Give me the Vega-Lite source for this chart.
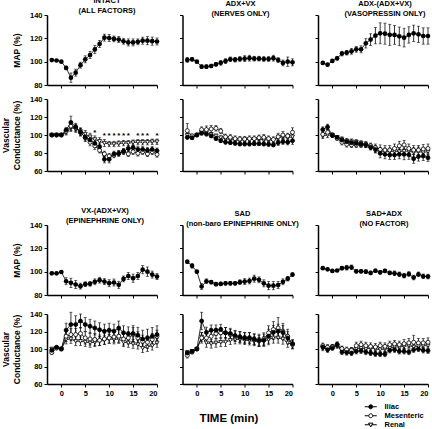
{
"$schema":"https://vega.github.io/schema/vega-lite/v6.json",
"padding":{"left":1,"top":-4,"right":2,"bottom":2},
"background":"white",
"datasets":{
"map":[
{"panel":"A","time":-2,"mean":101.4,"sem":1},{"panel":"A","time":-1,"mean":101,"sem":0.8},{"panel":"A","time":0,"mean":100,"sem":0.5},{"panel":"A","time":1,"mean":94.6,"sem":1.5},{"panel":"A","time":2,"mean":86.3,"sem":4},{"panel":"A","time":3,"mean":90.6,"sem":3},{"panel":"A","time":4,"mean":97,"sem":2.5},{"panel":"A","time":5,"mean":102,"sem":3},{"panel":"A","time":6,"mean":105.7,"sem":3},{"panel":"A","time":7,"mean":110.5,"sem":3.5},{"panel":"A","time":8,"mean":115.2,"sem":3},{"panel":"A","time":9,"mean":120.6,"sem":3},{"panel":"A","time":10,"mean":120.3,"sem":3},{"panel":"A","time":11,"mean":119.5,"sem":2.5},{"panel":"A","time":12,"mean":119,"sem":2.5},{"panel":"A","time":13,"mean":117.5,"sem":2.5},{"panel":"A","time":14,"mean":116.5,"sem":3},{"panel":"A","time":15,"mean":116.5,"sem":3},{"panel":"A","time":16,"mean":117,"sem":2.5},{"panel":"A","time":17,"mean":118,"sem":3},{"panel":"A","time":18,"mean":118,"sem":3.5},{"panel":"A","time":19,"mean":117.6,"sem":3.5},{"panel":"A","time":20,"mean":117.3,"sem":3},
{"panel":"B","time":-2,"mean":101.5,"sem":2},{"panel":"B","time":-1,"mean":102,"sem":1.5},{"panel":"B","time":0,"mean":100,"sem":1},{"panel":"B","time":1,"mean":95.7,"sem":1.5},{"panel":"B","time":2,"mean":95.7,"sem":1.5},{"panel":"B","time":3,"mean":96.3,"sem":1.5},{"panel":"B","time":4,"mean":97.7,"sem":1.5},{"panel":"B","time":5,"mean":99,"sem":2},{"panel":"B","time":6,"mean":100.5,"sem":2},{"panel":"B","time":7,"mean":102,"sem":2},{"panel":"B","time":8,"mean":101.7,"sem":2},{"panel":"B","time":9,"mean":102.3,"sem":2},{"panel":"B","time":10,"mean":102.6,"sem":2.5},{"panel":"B","time":11,"mean":103,"sem":2.5},{"panel":"B","time":12,"mean":102.6,"sem":2},{"panel":"B","time":13,"mean":102.6,"sem":2},{"panel":"B","time":14,"mean":102.3,"sem":2},{"panel":"B","time":15,"mean":102.3,"sem":2},{"panel":"B","time":16,"mean":103,"sem":2.5},{"panel":"B","time":17,"mean":101.4,"sem":2},{"panel":"B","time":18,"mean":98.9,"sem":2.5},{"panel":"B","time":19,"mean":100,"sem":4},{"panel":"B","time":20,"mean":99.4,"sem":3},
{"panel":"C","time":-2,"mean":98.9,"sem":1},{"panel":"C","time":-1,"mean":97.4,"sem":1},{"panel":"C","time":0,"mean":100.6,"sem":1},{"panel":"C","time":1,"mean":102.9,"sem":1.5},{"panel":"C","time":2,"mean":106.9,"sem":2},{"panel":"C","time":3,"mean":107.7,"sem":2},{"panel":"C","time":4,"mean":108.9,"sem":2.5},{"panel":"C","time":5,"mean":110.6,"sem":2.5},{"panel":"C","time":6,"mean":110.6,"sem":3},{"panel":"C","time":7,"mean":115.7,"sem":4},{"panel":"C","time":8,"mean":118.9,"sem":5},{"panel":"C","time":9,"mean":122.3,"sem":7},{"panel":"C","time":10,"mean":124.3,"sem":9},{"panel":"C","time":11,"mean":124,"sem":9},{"panel":"C","time":12,"mean":123,"sem":9},{"panel":"C","time":13,"mean":122.9,"sem":8},{"panel":"C","time":14,"mean":121.7,"sem":8},{"panel":"C","time":15,"mean":120.6,"sem":8},{"panel":"C","time":16,"mean":122.9,"sem":7},{"panel":"C","time":17,"mean":124.3,"sem":7},{"panel":"C","time":18,"mean":123.4,"sem":7},{"panel":"C","time":19,"mean":122,"sem":7},{"panel":"C","time":20,"mean":122,"sem":7},
{"panel":"D","time":-2,"mean":98.6,"sem":1},{"panel":"D","time":-1,"mean":98.6,"sem":1},{"panel":"D","time":0,"mean":99.7,"sem":1},{"panel":"D","time":1,"mean":91.8,"sem":3},{"panel":"D","time":2,"mean":90.4,"sem":4},{"panel":"D","time":3,"mean":89,"sem":3.5},{"panel":"D","time":4,"mean":87.6,"sem":2.5},{"panel":"D","time":5,"mean":89.3,"sem":2},{"panel":"D","time":6,"mean":89.6,"sem":2},{"panel":"D","time":7,"mean":91.3,"sem":2.5},{"panel":"D","time":8,"mean":92.7,"sem":2.5},{"panel":"D","time":9,"mean":91.5,"sem":2.5},{"panel":"D","time":10,"mean":90.1,"sem":3},{"panel":"D","time":11,"mean":90.7,"sem":3},{"panel":"D","time":12,"mean":88.7,"sem":3},{"panel":"D","time":13,"mean":93.8,"sem":2.5},{"panel":"D","time":14,"mean":96.3,"sem":3},{"panel":"D","time":15,"mean":94.4,"sem":3.5},{"panel":"D","time":16,"mean":96.3,"sem":3},{"panel":"D","time":17,"mean":101.7,"sem":3.5},{"panel":"D","time":18,"mean":100,"sem":4},{"panel":"D","time":19,"mean":97.5,"sem":3},{"panel":"D","time":20,"mean":95.8,"sem":2.5},
{"panel":"E","time":-2,"mean":108.5,"sem":1.5},{"panel":"E","time":-1,"mean":105,"sem":2},{"panel":"E","time":0,"mean":100,"sem":1},{"panel":"E","time":1,"mean":87.3,"sem":2.5},{"panel":"E","time":2,"mean":91.8,"sem":2},{"panel":"E","time":3,"mean":91,"sem":1.5},{"panel":"E","time":4,"mean":89.3,"sem":1.5},{"panel":"E","time":5,"mean":89.5,"sem":1.5},{"panel":"E","time":6,"mean":90,"sem":1.5},{"panel":"E","time":7,"mean":90,"sem":1.5},{"panel":"E","time":8,"mean":90,"sem":1.5},{"panel":"E","time":9,"mean":91,"sem":2},{"panel":"E","time":10,"mean":91.5,"sem":2.5},{"panel":"E","time":11,"mean":92,"sem":2.5},{"panel":"E","time":12,"mean":94,"sem":3},{"panel":"E","time":13,"mean":93,"sem":2.5},{"panel":"E","time":14,"mean":90,"sem":3},{"panel":"E","time":15,"mean":88,"sem":3.5},{"panel":"E","time":16,"mean":88,"sem":3.5},{"panel":"E","time":17,"mean":88.5,"sem":3},{"panel":"E","time":18,"mean":91.3,"sem":2.5},{"panel":"E","time":19,"mean":94,"sem":2},{"panel":"E","time":20,"mean":97.5,"sem":1.5},
{"panel":"F","time":-2,"mean":103,"sem":1},{"panel":"F","time":-1,"mean":102,"sem":1},{"panel":"F","time":0,"mean":100.6,"sem":1},{"panel":"F","time":1,"mean":101,"sem":1},{"panel":"F","time":2,"mean":103,"sem":1.5},{"panel":"F","time":3,"mean":103.4,"sem":2},{"panel":"F","time":4,"mean":103.7,"sem":2},{"panel":"F","time":5,"mean":100.3,"sem":1.5},{"panel":"F","time":6,"mean":100.3,"sem":1.5},{"panel":"F","time":7,"mean":100,"sem":1.5},{"panel":"F","time":8,"mean":98.9,"sem":1.5},{"panel":"F","time":9,"mean":100.8,"sem":1.5},{"panel":"F","time":10,"mean":99.4,"sem":1.5},{"panel":"F","time":11,"mean":100.6,"sem":1.5},{"panel":"F","time":12,"mean":98.9,"sem":1.5},{"panel":"F","time":13,"mean":98.6,"sem":2},{"panel":"F","time":14,"mean":97.7,"sem":2},{"panel":"F","time":15,"mean":96.6,"sem":2},{"panel":"F","time":16,"mean":98,"sem":2},{"panel":"F","time":17,"mean":95,"sem":2},{"panel":"F","time":18,"mean":97.7,"sem":2},{"panel":"F","time":19,"mean":96,"sem":2},{"panel":"F","time":20,"mean":95.8,"sem":2}
],
"vc":[
{"panel":"A","vessel":"Renal","time":-2,"mean":100,"sem":1},{"panel":"A","vessel":"Renal","time":-1,"mean":100,"sem":1},{"panel":"A","vessel":"Renal","time":0,"mean":100,"sem":1},{"panel":"A","vessel":"Renal","time":1,"mean":103,"sem":3},{"panel":"A","vessel":"Renal","time":2,"mean":108,"sem":4},{"panel":"A","vessel":"Renal","time":3,"mean":107,"sem":4},{"panel":"A","vessel":"Renal","time":4,"mean":104,"sem":4},{"panel":"A","vessel":"Renal","time":5,"mean":101,"sem":4},{"panel":"A","vessel":"Renal","time":6,"mean":98,"sem":4},{"panel":"A","vessel":"Renal","time":7,"mean":95,"sem":4},{"panel":"A","vessel":"Renal","time":8,"mean":93,"sem":4},{"panel":"A","vessel":"Renal","time":9,"mean":91,"sem":4},{"panel":"A","vessel":"Renal","time":10,"mean":90,"sem":3},{"panel":"A","vessel":"Renal","time":11,"mean":90,"sem":3},{"panel":"A","vessel":"Renal","time":12,"mean":90.5,"sem":3},{"panel":"A","vessel":"Renal","time":13,"mean":91,"sem":3},{"panel":"A","vessel":"Renal","time":14,"mean":91,"sem":3},{"panel":"A","vessel":"Renal","time":15,"mean":91.5,"sem":3},{"panel":"A","vessel":"Renal","time":16,"mean":92,"sem":3},{"panel":"A","vessel":"Renal","time":17,"mean":92,"sem":3},{"panel":"A","vessel":"Renal","time":18,"mean":92,"sem":3},{"panel":"A","vessel":"Renal","time":19,"mean":92.5,"sem":3},{"panel":"A","vessel":"Renal","time":20,"mean":92.5,"sem":3},
{"panel":"A","vessel":"Mesenteric","time":-2,"mean":100,"sem":1},{"panel":"A","vessel":"Mesenteric","time":-1,"mean":100,"sem":1},{"panel":"A","vessel":"Mesenteric","time":0,"mean":100,"sem":1},{"panel":"A","vessel":"Mesenteric","time":1,"mean":104,"sem":3},{"panel":"A","vessel":"Mesenteric","time":2,"mean":110,"sem":5},{"panel":"A","vessel":"Mesenteric","time":3,"mean":108,"sem":4},{"panel":"A","vessel":"Mesenteric","time":4,"mean":103,"sem":4},{"panel":"A","vessel":"Mesenteric","time":5,"mean":97,"sem":4},{"panel":"A","vessel":"Mesenteric","time":6,"mean":92,"sem":4},{"panel":"A","vessel":"Mesenteric","time":7,"mean":88,"sem":4},{"panel":"A","vessel":"Mesenteric","time":8,"mean":83,"sem":3},{"panel":"A","vessel":"Mesenteric","time":9,"mean":79,"sem":3},{"panel":"A","vessel":"Mesenteric","time":10,"mean":76.6,"sem":3},{"panel":"A","vessel":"Mesenteric","time":11,"mean":77.7,"sem":3},{"panel":"A","vessel":"Mesenteric","time":12,"mean":79.6,"sem":3},{"panel":"A","vessel":"Mesenteric","time":13,"mean":81.4,"sem":3},{"panel":"A","vessel":"Mesenteric","time":14,"mean":79,"sem":3},{"panel":"A","vessel":"Mesenteric","time":15,"mean":81.4,"sem":3},{"panel":"A","vessel":"Mesenteric","time":16,"mean":79.6,"sem":3},{"panel":"A","vessel":"Mesenteric","time":17,"mean":81.4,"sem":3},{"panel":"A","vessel":"Mesenteric","time":18,"mean":79,"sem":3},{"panel":"A","vessel":"Mesenteric","time":19,"mean":81.4,"sem":3},{"panel":"A","vessel":"Mesenteric","time":20,"mean":78.4,"sem":3},
{"panel":"A","vessel":"Iliac","time":-2,"mean":100,"sem":1},{"panel":"A","vessel":"Iliac","time":-1,"mean":100,"sem":1},{"panel":"A","vessel":"Iliac","time":0,"mean":100,"sem":1},{"panel":"A","vessel":"Iliac","time":1,"mean":105.5,"sem":3},{"panel":"A","vessel":"Iliac","time":2,"mean":114,"sem":7},{"panel":"A","vessel":"Iliac","time":3,"mean":109,"sem":4},{"panel":"A","vessel":"Iliac","time":4,"mean":103,"sem":4},{"panel":"A","vessel":"Iliac","time":5,"mean":97.4,"sem":4},{"panel":"A","vessel":"Iliac","time":6,"mean":94.5,"sem":4},{"panel":"A","vessel":"Iliac","time":7,"mean":90.7,"sem":4},{"panel":"A","vessel":"Iliac","time":8,"mean":87,"sem":4},{"panel":"A","vessel":"Iliac","time":9,"mean":73,"sem":4},{"panel":"A","vessel":"Iliac","time":10,"mean":73,"sem":4},{"panel":"A","vessel":"Iliac","time":11,"mean":79,"sem":3},{"panel":"A","vessel":"Iliac","time":12,"mean":79.5,"sem":3},{"panel":"A","vessel":"Iliac","time":13,"mean":82,"sem":3},{"panel":"A","vessel":"Iliac","time":14,"mean":85,"sem":3},{"panel":"A","vessel":"Iliac","time":15,"mean":86,"sem":3},{"panel":"A","vessel":"Iliac","time":16,"mean":84,"sem":3},{"panel":"A","vessel":"Iliac","time":17,"mean":84,"sem":3},{"panel":"A","vessel":"Iliac","time":18,"mean":83,"sem":3},{"panel":"A","vessel":"Iliac","time":19,"mean":84,"sem":3},{"panel":"A","vessel":"Iliac","time":20,"mean":82.5,"sem":3},
{"panel":"B","vessel":"Renal","time":-2,"mean":99.6,"sem":2},{"panel":"B","vessel":"Renal","time":-1,"mean":97.4,"sem":2},{"panel":"B","vessel":"Renal","time":0,"mean":100,"sem":1},{"panel":"B","vessel":"Renal","time":1,"mean":103,"sem":2},{"panel":"B","vessel":"Renal","time":2,"mean":102.6,"sem":2},{"panel":"B","vessel":"Renal","time":3,"mean":100.7,"sem":2},{"panel":"B","vessel":"Renal","time":4,"mean":99,"sem":2},{"panel":"B","vessel":"Renal","time":5,"mean":97,"sem":2},{"panel":"B","vessel":"Renal","time":6,"mean":96,"sem":2},{"panel":"B","vessel":"Renal","time":7,"mean":95,"sem":2},{"panel":"B","vessel":"Renal","time":8,"mean":94.4,"sem":2},{"panel":"B","vessel":"Renal","time":9,"mean":94,"sem":2},{"panel":"B","vessel":"Renal","time":10,"mean":94.8,"sem":2},{"panel":"B","vessel":"Renal","time":11,"mean":95,"sem":2},{"panel":"B","vessel":"Renal","time":12,"mean":95,"sem":2},{"panel":"B","vessel":"Renal","time":13,"mean":95.5,"sem":2},{"panel":"B","vessel":"Renal","time":14,"mean":94.4,"sem":2},{"panel":"B","vessel":"Renal","time":15,"mean":94.8,"sem":2},{"panel":"B","vessel":"Renal","time":16,"mean":93.7,"sem":2},{"panel":"B","vessel":"Renal","time":17,"mean":97,"sem":3},{"panel":"B","vessel":"Renal","time":18,"mean":98,"sem":3},{"panel":"B","vessel":"Renal","time":19,"mean":97,"sem":3},{"panel":"B","vessel":"Renal","time":20,"mean":98,"sem":3},
{"panel":"B","vessel":"Mesenteric","time":-2,"mean":104.8,"sem":8},{"panel":"B","vessel":"Mesenteric","time":-1,"mean":99,"sem":2},{"panel":"B","vessel":"Mesenteric","time":0,"mean":100,"sem":1},{"panel":"B","vessel":"Mesenteric","time":1,"mean":106,"sem":3},{"panel":"B","vessel":"Mesenteric","time":2,"mean":106,"sem":4},{"panel":"B","vessel":"Mesenteric","time":3,"mean":106.7,"sem":4},{"panel":"B","vessel":"Mesenteric","time":4,"mean":107.4,"sem":3},{"panel":"B","vessel":"Mesenteric","time":5,"mean":104.4,"sem":3},{"panel":"B","vessel":"Mesenteric","time":6,"mean":98,"sem":3},{"panel":"B","vessel":"Mesenteric","time":7,"mean":97.4,"sem":3},{"panel":"B","vessel":"Mesenteric","time":8,"mean":96,"sem":3},{"panel":"B","vessel":"Mesenteric","time":9,"mean":95.5,"sem":3},{"panel":"B","vessel":"Mesenteric","time":10,"mean":95.5,"sem":3},{"panel":"B","vessel":"Mesenteric","time":11,"mean":96,"sem":3},{"panel":"B","vessel":"Mesenteric","time":12,"mean":96,"sem":3},{"panel":"B","vessel":"Mesenteric","time":13,"mean":97,"sem":3},{"panel":"B","vessel":"Mesenteric","time":14,"mean":97.4,"sem":3},{"panel":"B","vessel":"Mesenteric","time":15,"mean":96,"sem":3},{"panel":"B","vessel":"Mesenteric","time":16,"mean":95,"sem":3},{"panel":"B","vessel":"Mesenteric","time":17,"mean":98,"sem":4},{"panel":"B","vessel":"Mesenteric","time":18,"mean":100,"sem":4},{"panel":"B","vessel":"Mesenteric","time":19,"mean":99,"sem":3},{"panel":"B","vessel":"Mesenteric","time":20,"mean":103,"sem":5},
{"panel":"B","vessel":"Iliac","time":-2,"mean":97.4,"sem":2},{"panel":"B","vessel":"Iliac","time":-1,"mean":97,"sem":2},{"panel":"B","vessel":"Iliac","time":0,"mean":100,"sem":1},{"panel":"B","vessel":"Iliac","time":1,"mean":102,"sem":2},{"panel":"B","vessel":"Iliac","time":2,"mean":101,"sem":2},{"panel":"B","vessel":"Iliac","time":3,"mean":99,"sem":2},{"panel":"B","vessel":"Iliac","time":4,"mean":96,"sem":2},{"panel":"B","vessel":"Iliac","time":5,"mean":93.7,"sem":2},{"panel":"B","vessel":"Iliac","time":6,"mean":92,"sem":2},{"panel":"B","vessel":"Iliac","time":7,"mean":91.5,"sem":2},{"panel":"B","vessel":"Iliac","time":8,"mean":90.7,"sem":2},{"panel":"B","vessel":"Iliac","time":9,"mean":90,"sem":2},{"panel":"B","vessel":"Iliac","time":10,"mean":90,"sem":2},{"panel":"B","vessel":"Iliac","time":11,"mean":90,"sem":2},{"panel":"B","vessel":"Iliac","time":12,"mean":90.4,"sem":2},{"panel":"B","vessel":"Iliac","time":13,"mean":90.4,"sem":2},{"panel":"B","vessel":"Iliac","time":14,"mean":90,"sem":2},{"panel":"B","vessel":"Iliac","time":15,"mean":89.6,"sem":2},{"panel":"B","vessel":"Iliac","time":16,"mean":89,"sem":2},{"panel":"B","vessel":"Iliac","time":17,"mean":91.5,"sem":3},{"panel":"B","vessel":"Iliac","time":18,"mean":92.6,"sem":3},{"panel":"B","vessel":"Iliac","time":19,"mean":92,"sem":3},{"panel":"B","vessel":"Iliac","time":20,"mean":93.7,"sem":4},
{"panel":"C","vessel":"Renal","time":-2,"mean":99,"sem":3},{"panel":"C","vessel":"Renal","time":-1,"mean":100,"sem":3},{"panel":"C","vessel":"Renal","time":0,"mean":100,"sem":2},{"panel":"C","vessel":"Renal","time":1,"mean":97.4,"sem":2},{"panel":"C","vessel":"Renal","time":2,"mean":95,"sem":3},{"panel":"C","vessel":"Renal","time":3,"mean":93.3,"sem":3},{"panel":"C","vessel":"Renal","time":4,"mean":92.6,"sem":3},{"panel":"C","vessel":"Renal","time":5,"mean":92,"sem":3},{"panel":"C","vessel":"Renal","time":6,"mean":90.7,"sem":3},{"panel":"C","vessel":"Renal","time":7,"mean":89,"sem":3},{"panel":"C","vessel":"Renal","time":8,"mean":87,"sem":3},{"panel":"C","vessel":"Renal","time":9,"mean":84.4,"sem":4},{"panel":"C","vessel":"Renal","time":10,"mean":82.2,"sem":4},{"panel":"C","vessel":"Renal","time":11,"mean":81.5,"sem":4},{"panel":"C","vessel":"Renal","time":12,"mean":81.5,"sem":4},{"panel":"C","vessel":"Renal","time":13,"mean":82,"sem":4},{"panel":"C","vessel":"Renal","time":14,"mean":81.5,"sem":4},{"panel":"C","vessel":"Renal","time":15,"mean":82,"sem":5},{"panel":"C","vessel":"Renal","time":16,"mean":82,"sem":4},{"panel":"C","vessel":"Renal","time":17,"mean":80.7,"sem":5},{"panel":"C","vessel":"Renal","time":18,"mean":81.5,"sem":5},{"panel":"C","vessel":"Renal","time":19,"mean":80.7,"sem":5},{"panel":"C","vessel":"Renal","time":20,"mean":81.5,"sem":4},
{"panel":"C","vessel":"Mesenteric","time":-2,"mean":100.7,"sem":3},{"panel":"C","vessel":"Mesenteric","time":-1,"mean":103,"sem":3},{"panel":"C","vessel":"Mesenteric","time":0,"mean":100,"sem":2},{"panel":"C","vessel":"Mesenteric","time":1,"mean":96.3,"sem":2},{"panel":"C","vessel":"Mesenteric","time":2,"mean":92,"sem":3},{"panel":"C","vessel":"Mesenteric","time":3,"mean":89.6,"sem":3},{"panel":"C","vessel":"Mesenteric","time":4,"mean":89,"sem":3},{"panel":"C","vessel":"Mesenteric","time":5,"mean":89,"sem":3},{"panel":"C","vessel":"Mesenteric","time":6,"mean":89,"sem":3},{"panel":"C","vessel":"Mesenteric","time":7,"mean":89.6,"sem":3},{"panel":"C","vessel":"Mesenteric","time":8,"mean":88,"sem":3},{"panel":"C","vessel":"Mesenteric","time":9,"mean":86,"sem":4},{"panel":"C","vessel":"Mesenteric","time":10,"mean":84,"sem":5},{"panel":"C","vessel":"Mesenteric","time":11,"mean":83.3,"sem":5},{"panel":"C","vessel":"Mesenteric","time":12,"mean":83.3,"sem":5},{"panel":"C","vessel":"Mesenteric","time":13,"mean":85,"sem":5},{"panel":"C","vessel":"Mesenteric","time":14,"mean":88,"sem":5},{"panel":"C","vessel":"Mesenteric","time":15,"mean":89,"sem":5},{"panel":"C","vessel":"Mesenteric","time":16,"mean":85,"sem":5},{"panel":"C","vessel":"Mesenteric","time":17,"mean":83.3,"sem":5},{"panel":"C","vessel":"Mesenteric","time":18,"mean":83.3,"sem":5},{"panel":"C","vessel":"Mesenteric","time":19,"mean":84.4,"sem":5},{"panel":"C","vessel":"Mesenteric","time":20,"mean":85,"sem":5},
{"panel":"C","vessel":"Iliac","time":-2,"mean":106,"sem":3},{"panel":"C","vessel":"Iliac","time":-1,"mean":109,"sem":3},{"panel":"C","vessel":"Iliac","time":0,"mean":99.5,"sem":2},{"panel":"C","vessel":"Iliac","time":1,"mean":97.4,"sem":2},{"panel":"C","vessel":"Iliac","time":2,"mean":94.4,"sem":2},{"panel":"C","vessel":"Iliac","time":3,"mean":92.6,"sem":2},{"panel":"C","vessel":"Iliac","time":4,"mean":91.5,"sem":2},{"panel":"C","vessel":"Iliac","time":5,"mean":90.7,"sem":2},{"panel":"C","vessel":"Iliac","time":6,"mean":89.6,"sem":2},{"panel":"C","vessel":"Iliac","time":7,"mean":89,"sem":3},{"panel":"C","vessel":"Iliac","time":8,"mean":86.3,"sem":3},{"panel":"C","vessel":"Iliac","time":9,"mean":84,"sem":4},{"panel":"C","vessel":"Iliac","time":10,"mean":79.6,"sem":5},{"panel":"C","vessel":"Iliac","time":11,"mean":78.5,"sem":5},{"panel":"C","vessel":"Iliac","time":12,"mean":77.8,"sem":5},{"panel":"C","vessel":"Iliac","time":13,"mean":77.8,"sem":5},{"panel":"C","vessel":"Iliac","time":14,"mean":78.5,"sem":5},{"panel":"C","vessel":"Iliac","time":15,"mean":78.5,"sem":6},{"panel":"C","vessel":"Iliac","time":16,"mean":78,"sem":5},{"panel":"C","vessel":"Iliac","time":17,"mean":73.6,"sem":5},{"panel":"C","vessel":"Iliac","time":18,"mean":76,"sem":5},{"panel":"C","vessel":"Iliac","time":19,"mean":76.6,"sem":5},{"panel":"C","vessel":"Iliac","time":20,"mean":74.7,"sem":4},
{"panel":"D","vessel":"Renal","time":-2,"mean":100,"sem":2},{"panel":"D","vessel":"Renal","time":-1,"mean":101,"sem":1},{"panel":"D","vessel":"Renal","time":0,"mean":100,"sem":1},{"panel":"D","vessel":"Renal","time":1,"mean":110.8,"sem":5},{"panel":"D","vessel":"Renal","time":2,"mean":111.5,"sem":5},{"panel":"D","vessel":"Renal","time":3,"mean":108.8,"sem":5},{"panel":"D","vessel":"Renal","time":4,"mean":108.8,"sem":5},{"panel":"D","vessel":"Renal","time":5,"mean":108,"sem":5},{"panel":"D","vessel":"Renal","time":6,"mean":107,"sem":5},{"panel":"D","vessel":"Renal","time":7,"mean":107.7,"sem":5},{"panel":"D","vessel":"Renal","time":8,"mean":108.8,"sem":5},{"panel":"D","vessel":"Renal","time":9,"mean":110,"sem":5},{"panel":"D","vessel":"Renal","time":10,"mean":111.5,"sem":5},{"panel":"D","vessel":"Renal","time":11,"mean":110.8,"sem":5},{"panel":"D","vessel":"Renal","time":12,"mean":111.5,"sem":5},{"panel":"D","vessel":"Renal","time":13,"mean":107.7,"sem":5},{"panel":"D","vessel":"Renal","time":14,"mean":107,"sem":5},{"panel":"D","vessel":"Renal","time":15,"mean":105.8,"sem":5},{"panel":"D","vessel":"Renal","time":16,"mean":105,"sem":5},{"panel":"D","vessel":"Renal","time":17,"mean":101,"sem":5},{"panel":"D","vessel":"Renal","time":18,"mean":102.3,"sem":5},{"panel":"D","vessel":"Renal","time":19,"mean":103.8,"sem":5},{"panel":"D","vessel":"Renal","time":20,"mean":107,"sem":5},
{"panel":"D","vessel":"Mesenteric","time":-2,"mean":96,"sem":2},{"panel":"D","vessel":"Mesenteric","time":-1,"mean":101,"sem":1},{"panel":"D","vessel":"Mesenteric","time":0,"mean":100,"sem":1},{"panel":"D","vessel":"Mesenteric","time":1,"mean":114.6,"sem":6},{"panel":"D","vessel":"Mesenteric","time":2,"mean":116.5,"sem":7},{"panel":"D","vessel":"Mesenteric","time":3,"mean":116.5,"sem":7},{"panel":"D","vessel":"Mesenteric","time":4,"mean":117.7,"sem":7},{"panel":"D","vessel":"Mesenteric","time":5,"mean":112.7,"sem":7},{"panel":"D","vessel":"Mesenteric","time":6,"mean":111.5,"sem":7},{"panel":"D","vessel":"Mesenteric","time":7,"mean":110.8,"sem":7},{"panel":"D","vessel":"Mesenteric","time":8,"mean":110,"sem":6},{"panel":"D","vessel":"Mesenteric","time":9,"mean":111.5,"sem":6},{"panel":"D","vessel":"Mesenteric","time":10,"mean":112.7,"sem":6},{"panel":"D","vessel":"Mesenteric","time":11,"mean":113.8,"sem":6},{"panel":"D","vessel":"Mesenteric","time":12,"mean":114.6,"sem":7},{"panel":"D","vessel":"Mesenteric","time":13,"mean":111.5,"sem":7},{"panel":"D","vessel":"Mesenteric","time":14,"mean":112.7,"sem":7},{"panel":"D","vessel":"Mesenteric","time":15,"mean":116.5,"sem":8},{"panel":"D","vessel":"Mesenteric","time":16,"mean":112.7,"sem":7},{"panel":"D","vessel":"Mesenteric","time":17,"mean":108.8,"sem":7},{"panel":"D","vessel":"Mesenteric","time":18,"mean":107.7,"sem":7},{"panel":"D","vessel":"Mesenteric","time":19,"mean":110.8,"sem":7},{"panel":"D","vessel":"Mesenteric","time":20,"mean":114.6,"sem":7},
{"panel":"D","vessel":"Iliac","time":-2,"mean":98.5,"sem":2},{"panel":"D","vessel":"Iliac","time":-1,"mean":102,"sem":1.5},{"panel":"D","vessel":"Iliac","time":0,"mean":100,"sem":1},{"panel":"D","vessel":"Iliac","time":1,"mean":121.5,"sem":8},{"panel":"D","vessel":"Iliac","time":2,"mean":128,"sem":14},{"panel":"D","vessel":"Iliac","time":3,"mean":128,"sem":10},{"panel":"D","vessel":"Iliac","time":4,"mean":132,"sem":8},{"panel":"D","vessel":"Iliac","time":5,"mean":128,"sem":8},{"panel":"D","vessel":"Iliac","time":6,"mean":126,"sem":8},{"panel":"D","vessel":"Iliac","time":7,"mean":124,"sem":8},{"panel":"D","vessel":"Iliac","time":8,"mean":122,"sem":8},{"panel":"D","vessel":"Iliac","time":9,"mean":120.4,"sem":8},{"panel":"D","vessel":"Iliac","time":10,"mean":121.5,"sem":8},{"panel":"D","vessel":"Iliac","time":11,"mean":120.4,"sem":8},{"panel":"D","vessel":"Iliac","time":12,"mean":124,"sem":8},{"panel":"D","vessel":"Iliac","time":13,"mean":118.5,"sem":8},{"panel":"D","vessel":"Iliac","time":14,"mean":117.3,"sem":8},{"panel":"D","vessel":"Iliac","time":15,"mean":117.7,"sem":9},{"panel":"D","vessel":"Iliac","time":16,"mean":115.8,"sem":9},{"panel":"D","vessel":"Iliac","time":17,"mean":111.5,"sem":10},{"panel":"D","vessel":"Iliac","time":18,"mean":112.7,"sem":10},{"panel":"D","vessel":"Iliac","time":19,"mean":114.6,"sem":10},{"panel":"D","vessel":"Iliac","time":20,"mean":116.5,"sem":10},
{"panel":"E","vessel":"Renal","time":-2,"mean":96,"sem":2},{"panel":"E","vessel":"Renal","time":-1,"mean":97.3,"sem":2},{"panel":"E","vessel":"Renal","time":0,"mean":100,"sem":1},{"panel":"E","vessel":"Renal","time":1,"mean":113.8,"sem":5},{"panel":"E","vessel":"Renal","time":2,"mean":107,"sem":5},{"panel":"E","vessel":"Renal","time":3,"mean":106,"sem":5},{"panel":"E","vessel":"Renal","time":4,"mean":107,"sem":5},{"panel":"E","vessel":"Renal","time":5,"mean":107.7,"sem":5},{"panel":"E","vessel":"Renal","time":6,"mean":108,"sem":5},{"panel":"E","vessel":"Renal","time":7,"mean":110,"sem":5},{"panel":"E","vessel":"Renal","time":8,"mean":110.8,"sem":5},{"panel":"E","vessel":"Renal","time":9,"mean":110.8,"sem":5},{"panel":"E","vessel":"Renal","time":10,"mean":110,"sem":5},{"panel":"E","vessel":"Renal","time":11,"mean":109.6,"sem":5},{"panel":"E","vessel":"Renal","time":12,"mean":108.8,"sem":5},{"panel":"E","vessel":"Renal","time":13,"mean":108,"sem":5},{"panel":"E","vessel":"Renal","time":14,"mean":108.8,"sem":5},{"panel":"E","vessel":"Renal","time":15,"mean":110.8,"sem":6},{"panel":"E","vessel":"Renal","time":16,"mean":112.7,"sem":6},{"panel":"E","vessel":"Renal","time":17,"mean":112.7,"sem":6},{"panel":"E","vessel":"Renal","time":18,"mean":111.5,"sem":6},{"panel":"E","vessel":"Renal","time":19,"mean":107,"sem":5},{"panel":"E","vessel":"Renal","time":20,"mean":105,"sem":4},
{"panel":"E","vessel":"Mesenteric","time":-2,"mean":92.7,"sem":3},{"panel":"E","vessel":"Mesenteric","time":-1,"mean":96.5,"sem":2},{"panel":"E","vessel":"Mesenteric","time":0,"mean":100,"sem":1},{"panel":"E","vessel":"Mesenteric","time":1,"mean":112.7,"sem":6},{"panel":"E","vessel":"Mesenteric","time":2,"mean":112.7,"sem":6},{"panel":"E","vessel":"Mesenteric","time":3,"mean":114.6,"sem":6},{"panel":"E","vessel":"Mesenteric","time":4,"mean":117.7,"sem":6},{"panel":"E","vessel":"Mesenteric","time":5,"mean":118.5,"sem":6},{"panel":"E","vessel":"Mesenteric","time":6,"mean":118.5,"sem":6},{"panel":"E","vessel":"Mesenteric","time":7,"mean":116.5,"sem":6},{"panel":"E","vessel":"Mesenteric","time":8,"mean":114.6,"sem":6},{"panel":"E","vessel":"Mesenteric","time":9,"mean":113.8,"sem":6},{"panel":"E","vessel":"Mesenteric","time":10,"mean":112.7,"sem":6},{"panel":"E","vessel":"Mesenteric","time":11,"mean":112.7,"sem":6},{"panel":"E","vessel":"Mesenteric","time":12,"mean":110.8,"sem":6},{"panel":"E","vessel":"Mesenteric","time":13,"mean":109.6,"sem":6},{"panel":"E","vessel":"Mesenteric","time":14,"mean":111.5,"sem":7},{"panel":"E","vessel":"Mesenteric","time":15,"mean":118.5,"sem":8},{"panel":"E","vessel":"Mesenteric","time":16,"mean":122.3,"sem":9},{"panel":"E","vessel":"Mesenteric","time":17,"mean":124,"sem":12},{"panel":"E","vessel":"Mesenteric","time":18,"mean":120.4,"sem":9},{"panel":"E","vessel":"Mesenteric","time":19,"mean":114.6,"sem":8},{"panel":"E","vessel":"Mesenteric","time":20,"mean":105,"sem":5},
{"panel":"E","vessel":"Iliac","time":-2,"mean":95.4,"sem":2},{"panel":"E","vessel":"Iliac","time":-1,"mean":97.3,"sem":2},{"panel":"E","vessel":"Iliac","time":0,"mean":100,"sem":1},{"panel":"E","vessel":"Iliac","time":1,"mean":132,"sem":10},{"panel":"E","vessel":"Iliac","time":2,"mean":119,"sem":6},{"panel":"E","vessel":"Iliac","time":3,"mean":121.5,"sem":6},{"panel":"E","vessel":"Iliac","time":4,"mean":121.5,"sem":6},{"panel":"E","vessel":"Iliac","time":5,"mean":122.3,"sem":6},{"panel":"E","vessel":"Iliac","time":6,"mean":118.5,"sem":6},{"panel":"E","vessel":"Iliac","time":7,"mean":117.7,"sem":6},{"panel":"E","vessel":"Iliac","time":8,"mean":115.4,"sem":6},{"panel":"E","vessel":"Iliac","time":9,"mean":113.8,"sem":6},{"panel":"E","vessel":"Iliac","time":10,"mean":112.7,"sem":6},{"panel":"E","vessel":"Iliac","time":11,"mean":112.7,"sem":6},{"panel":"E","vessel":"Iliac","time":12,"mean":111.5,"sem":6},{"panel":"E","vessel":"Iliac","time":13,"mean":110,"sem":7},{"panel":"E","vessel":"Iliac","time":14,"mean":110,"sem":7},{"panel":"E","vessel":"Iliac","time":15,"mean":114.6,"sem":8},{"panel":"E","vessel":"Iliac","time":16,"mean":119,"sem":8},{"panel":"E","vessel":"Iliac","time":17,"mean":120.4,"sem":8},{"panel":"E","vessel":"Iliac","time":18,"mean":119,"sem":8},{"panel":"E","vessel":"Iliac","time":19,"mean":112.7,"sem":7},{"panel":"E","vessel":"Iliac","time":20,"mean":106,"sem":5},
{"panel":"F","vessel":"Renal","time":-2,"mean":101,"sem":3},{"panel":"F","vessel":"Renal","time":-1,"mean":100,"sem":3},{"panel":"F","vessel":"Renal","time":0,"mean":102,"sem":3},{"panel":"F","vessel":"Renal","time":1,"mean":103.8,"sem":3},{"panel":"F","vessel":"Renal","time":2,"mean":99.2,"sem":3},{"panel":"F","vessel":"Renal","time":3,"mean":97.3,"sem":3},{"panel":"F","vessel":"Renal","time":4,"mean":98.5,"sem":3},{"panel":"F","vessel":"Renal","time":5,"mean":100,"sem":3},{"panel":"F","vessel":"Renal","time":6,"mean":101,"sem":3},{"panel":"F","vessel":"Renal","time":7,"mean":100,"sem":3},{"panel":"F","vessel":"Renal","time":8,"mean":101,"sem":3},{"panel":"F","vessel":"Renal","time":9,"mean":100,"sem":3},{"panel":"F","vessel":"Renal","time":10,"mean":99.2,"sem":3},{"panel":"F","vessel":"Renal","time":11,"mean":100,"sem":3},{"panel":"F","vessel":"Renal","time":12,"mean":101,"sem":3},{"panel":"F","vessel":"Renal","time":13,"mean":102.3,"sem":3},{"panel":"F","vessel":"Renal","time":14,"mean":102.3,"sem":3},{"panel":"F","vessel":"Renal","time":15,"mean":103,"sem":3},{"panel":"F","vessel":"Renal","time":16,"mean":103.8,"sem":3},{"panel":"F","vessel":"Renal","time":17,"mean":102.3,"sem":3},{"panel":"F","vessel":"Renal","time":18,"mean":103,"sem":3},{"panel":"F","vessel":"Renal","time":19,"mean":103.8,"sem":3},{"panel":"F","vessel":"Renal","time":20,"mean":103.8,"sem":3},
{"panel":"F","vessel":"Mesenteric","time":-2,"mean":103.8,"sem":3},{"panel":"F","vessel":"Mesenteric","time":-1,"mean":102,"sem":3},{"panel":"F","vessel":"Mesenteric","time":0,"mean":102.3,"sem":3},{"panel":"F","vessel":"Mesenteric","time":1,"mean":105,"sem":3},{"panel":"F","vessel":"Mesenteric","time":2,"mean":100.4,"sem":3},{"panel":"F","vessel":"Mesenteric","time":3,"mean":99.2,"sem":3},{"panel":"F","vessel":"Mesenteric","time":4,"mean":98.5,"sem":3},{"panel":"F","vessel":"Mesenteric","time":5,"mean":103.8,"sem":4},{"panel":"F","vessel":"Mesenteric","time":6,"mean":105,"sem":4},{"panel":"F","vessel":"Mesenteric","time":7,"mean":103.8,"sem":4},{"panel":"F","vessel":"Mesenteric","time":8,"mean":103,"sem":4},{"panel":"F","vessel":"Mesenteric","time":9,"mean":102.3,"sem":4},{"panel":"F","vessel":"Mesenteric","time":10,"mean":103.8,"sem":4},{"panel":"F","vessel":"Mesenteric","time":11,"mean":103,"sem":4},{"panel":"F","vessel":"Mesenteric","time":12,"mean":105,"sem":4},{"panel":"F","vessel":"Mesenteric","time":13,"mean":105.8,"sem":4},{"panel":"F","vessel":"Mesenteric","time":14,"mean":105,"sem":4},{"panel":"F","vessel":"Mesenteric","time":15,"mean":106,"sem":5},{"panel":"F","vessel":"Mesenteric","time":16,"mean":107,"sem":5},{"panel":"F","vessel":"Mesenteric","time":17,"mean":107.7,"sem":8},{"panel":"F","vessel":"Mesenteric","time":18,"mean":107,"sem":5},{"panel":"F","vessel":"Mesenteric","time":19,"mean":107,"sem":5},{"panel":"F","vessel":"Mesenteric","time":20,"mean":107.7,"sem":5},
{"panel":"F","vessel":"Iliac","time":-2,"mean":102.3,"sem":3},{"panel":"F","vessel":"Iliac","time":-1,"mean":99.2,"sem":3},{"panel":"F","vessel":"Iliac","time":0,"mean":101,"sem":2},{"panel":"F","vessel":"Iliac","time":1,"mean":105,"sem":3},{"panel":"F","vessel":"Iliac","time":2,"mean":96.5,"sem":3},{"panel":"F","vessel":"Iliac","time":3,"mean":96,"sem":3},{"panel":"F","vessel":"Iliac","time":4,"mean":95.4,"sem":3},{"panel":"F","vessel":"Iliac","time":5,"mean":97.3,"sem":3},{"panel":"F","vessel":"Iliac","time":6,"mean":98,"sem":3},{"panel":"F","vessel":"Iliac","time":7,"mean":96.5,"sem":3},{"panel":"F","vessel":"Iliac","time":8,"mean":95.4,"sem":3},{"panel":"F","vessel":"Iliac","time":9,"mean":94.6,"sem":3},{"panel":"F","vessel":"Iliac","time":10,"mean":94.2,"sem":3},{"panel":"F","vessel":"Iliac","time":11,"mean":94.2,"sem":3},{"panel":"F","vessel":"Iliac","time":12,"mean":98.5,"sem":3},{"panel":"F","vessel":"Iliac","time":13,"mean":99.2,"sem":3},{"panel":"F","vessel":"Iliac","time":14,"mean":97.3,"sem":3},{"panel":"F","vessel":"Iliac","time":15,"mean":97.3,"sem":3},{"panel":"F","vessel":"Iliac","time":16,"mean":96.5,"sem":3},{"panel":"F","vessel":"Iliac","time":17,"mean":99.2,"sem":3},{"panel":"F","vessel":"Iliac","time":18,"mean":100,"sem":3},{"panel":"F","vessel":"Iliac","time":19,"mean":98.5,"sem":3},{"panel":"F","vessel":"Iliac","time":20,"mean":98,"sem":3}
],
"sig":[
{"panel":"A","time":7,"mean":104.8},{"panel":"A","time":9,"mean":101},{"panel":"A","time":10,"mean":101},{"panel":"A","time":11,"mean":101},{"panel":"A","time":12,"mean":101},{"panel":"A","time":13,"mean":101},{"panel":"A","time":14,"mean":101},{"panel":"A","time":16,"mean":101},{"panel":"A","time":17,"mean":101},{"panel":"A","time":18,"mean":101},{"panel":"A","time":20,"mean":101}
]
},
"spacing":31,
"vconcat":[
{"spacing":6,"vconcat":[
{"spacing":25.5,"bounds":"flush","hconcat":[
{"width":110,"height":70,"title":{"text":["INTACT","(ALL FACTORS)"],"dx":5},
"encoding":{"x":{"field":"time","type":"quantitative","scale":{"domain":[-3,20],"nice":false,"zero":false},"axis":{"values":[0,5,10,15,20],"labels":false,"title":null}},"y":{"field":"mean","type":"quantitative","scale":{"domain":[80,140],"nice":false,"zero":false},"axis":{"values":[80,100,120,140],"title":"MAP (%)"}}},
"layer":[
{"data":{"values":[{}]},"mark":{"type":"rule","strokeDash":[1,1.5],"color":"#444","strokeWidth":0.8},"encoding":{"x":{"datum":0},"x2":{"datum":20},"y":{"datum":100}}},
{"data":{"values":[{}]},"mark":{"type":"rule","strokeDash":[1,1.5],"color":"#444","strokeWidth":0.8},"encoding":{"x":{"datum":0},"y":{"datum":80},"y2":{"datum":140}}},
{"data":{"name":"map"},"transform":[{"filter":"datum.panel === 'A'"}],"layer":[
{"mark":{"type":"line","color":"black","strokeWidth":0.8}},
{"mark":{"type":"errorbar","color":"black","thickness":0.8,"ticks":{"size":3,"thickness":0.8}},"encoding":{"yError":{"field":"sem"}}},
{"mark":{"type":"point","shape":"circle","filled":true,"color":"black","size":22,"opacity":1}}]}]},
{"width":110,"height":70,"title":{"text":["ADX+VX","(NERVES ONLY)"],"dx":3},
"encoding":{"x":{"field":"time","type":"quantitative","scale":{"domain":[-3,20],"nice":false,"zero":false},"axis":{"values":[0,5,10,15,20],"labels":false,"title":null}},"y":{"field":"mean","type":"quantitative","scale":{"domain":[80,140],"nice":false,"zero":false},"axis":{"values":[80,100,120,140],"labels":false,"title":null}}},
"layer":[
{"data":{"values":[{}]},"mark":{"type":"rule","strokeDash":[1,1.5],"color":"#444","strokeWidth":0.8},"encoding":{"x":{"datum":0},"x2":{"datum":20},"y":{"datum":100}}},
{"data":{"values":[{}]},"mark":{"type":"rule","strokeDash":[1,1.5],"color":"#444","strokeWidth":0.8},"encoding":{"x":{"datum":0},"y":{"datum":80},"y2":{"datum":140}}},
{"data":{"name":"map"},"transform":[{"filter":"datum.panel === 'B'"}],"layer":[
{"mark":{"type":"line","color":"black","strokeWidth":0.8}},
{"mark":{"type":"errorbar","color":"black","thickness":0.8,"ticks":{"size":3,"thickness":0.8}},"encoding":{"yError":{"field":"sem"}}},
{"mark":{"type":"point","shape":"circle","filled":true,"color":"black","size":22,"opacity":1}}]}]},
{"width":110,"height":70,"title":{"text":["ADX-(ADX+VX)","(VASOPRESSIN ONLY)"],"dx":12},
"encoding":{"x":{"field":"time","type":"quantitative","scale":{"domain":[-3,20],"nice":false,"zero":false},"axis":{"values":[0,5,10,15,20],"labels":false,"title":null}},"y":{"field":"mean","type":"quantitative","scale":{"domain":[80,140],"nice":false,"zero":false},"axis":{"values":[80,100,120,140],"labels":false,"title":null}}},
"layer":[
{"data":{"values":[{}]},"mark":{"type":"rule","strokeDash":[1,1.5],"color":"#444","strokeWidth":0.8},"encoding":{"x":{"datum":0},"x2":{"datum":20},"y":{"datum":100}}},
{"data":{"values":[{}]},"mark":{"type":"rule","strokeDash":[1,1.5],"color":"#444","strokeWidth":0.8},"encoding":{"x":{"datum":0},"y":{"datum":80},"y2":{"datum":140}}},
{"data":{"name":"map"},"transform":[{"filter":"datum.panel === 'C'"}],"layer":[
{"mark":{"type":"line","color":"black","strokeWidth":0.8}},
{"mark":{"type":"errorbar","color":"black","thickness":0.8,"ticks":{"size":3,"thickness":0.8}},"encoding":{"yError":{"field":"sem"}}},
{"mark":{"type":"point","shape":"circle","filled":true,"color":"black","size":22,"opacity":1}}]}]}
]},
{"spacing":25.5,"bounds":"flush","hconcat":[
{"width":110,"height":72,
"encoding":{"x":{"field":"time","type":"quantitative","scale":{"domain":[-3,20],"nice":false,"zero":false},"axis":{"values":[0,5,10,15,20],"labels":false,"title":null}},"y":{"field":"mean","type":"quantitative","scale":{"domain":[60,140],"nice":false,"zero":false},"axis":{"values":[60,80,100,120,140],"title":["Vascular","Conductance (%)"]}}},
"layer":[
{"data":{"values":[{}]},"mark":{"type":"rule","strokeDash":[1,1.5],"color":"#444","strokeWidth":0.8},"encoding":{"x":{"datum":0},"x2":{"datum":20},"y":{"datum":100}}},
{"data":{"values":[{}]},"mark":{"type":"rule","strokeDash":[1,1.5],"color":"#444","strokeWidth":0.8},"encoding":{"x":{"datum":0},"y":{"datum":60},"y2":{"datum":140}}},
{"data":{"name":"vc"},"transform":[{"filter":"datum.panel === 'A'"}],"layer":[
{"mark":{"type":"line","color":"black","strokeWidth":0.8},"encoding":{"detail":{"field":"vessel"}}},
{"mark":{"type":"errorbar","color":"black","thickness":0.8,"ticks":{"size":3,"thickness":0.8}},"encoding":{"yError":{"field":"sem"}}},
{"transform":[{"filter":"datum.vessel === 'Renal'"}],"mark":{"type":"point","shape":"triangle-down","filled":true,"fill":"white","stroke":"black","strokeWidth":0.8,"size":16,"opacity":1}},
{"transform":[{"filter":"datum.vessel === 'Mesenteric'"}],"mark":{"type":"point","shape":"circle","filled":true,"fill":"white","stroke":"black","strokeWidth":0.8,"size":16,"opacity":1}},
{"transform":[{"filter":"datum.vessel === 'Iliac'"}],"mark":{"type":"point","shape":"circle","filled":true,"fill":"black","stroke":"black","strokeWidth":0.8,"size":16,"opacity":1}}]},
{"data":{"name":"sig"},"transform":[{"filter":"datum.panel === 'A'"}],"mark":{"type":"text","text":"*","fontSize":8,"fontWeight":"bold","color":"black","baseline":"middle","dy":2}}]},
{"width":110,"height":72,
"encoding":{"x":{"field":"time","type":"quantitative","scale":{"domain":[-3,20],"nice":false,"zero":false},"axis":{"values":[0,5,10,15,20],"labels":false,"title":null}},"y":{"field":"mean","type":"quantitative","scale":{"domain":[60,140],"nice":false,"zero":false},"axis":{"values":[60,80,100,120,140],"labels":false,"title":null}}},
"layer":[
{"data":{"values":[{}]},"mark":{"type":"rule","strokeDash":[1,1.5],"color":"#444","strokeWidth":0.8},"encoding":{"x":{"datum":0},"x2":{"datum":20},"y":{"datum":100}}},
{"data":{"values":[{}]},"mark":{"type":"rule","strokeDash":[1,1.5],"color":"#444","strokeWidth":0.8},"encoding":{"x":{"datum":0},"y":{"datum":60},"y2":{"datum":140}}},
{"data":{"name":"vc"},"transform":[{"filter":"datum.panel === 'B'"}],"layer":[
{"mark":{"type":"line","color":"black","strokeWidth":0.8},"encoding":{"detail":{"field":"vessel"}}},
{"mark":{"type":"errorbar","color":"black","thickness":0.8,"ticks":{"size":3,"thickness":0.8}},"encoding":{"yError":{"field":"sem"}}},
{"transform":[{"filter":"datum.vessel === 'Renal'"}],"mark":{"type":"point","shape":"triangle-down","filled":true,"fill":"white","stroke":"black","strokeWidth":0.8,"size":16,"opacity":1}},
{"transform":[{"filter":"datum.vessel === 'Mesenteric'"}],"mark":{"type":"point","shape":"circle","filled":true,"fill":"white","stroke":"black","strokeWidth":0.8,"size":16,"opacity":1}},
{"transform":[{"filter":"datum.vessel === 'Iliac'"}],"mark":{"type":"point","shape":"circle","filled":true,"fill":"black","stroke":"black","strokeWidth":0.8,"size":16,"opacity":1}}]}]},
{"width":110,"height":72,
"encoding":{"x":{"field":"time","type":"quantitative","scale":{"domain":[-3,20],"nice":false,"zero":false},"axis":{"values":[0,5,10,15,20],"labels":false,"title":null}},"y":{"field":"mean","type":"quantitative","scale":{"domain":[60,140],"nice":false,"zero":false},"axis":{"values":[60,80,100,120,140],"labels":false,"title":null}}},
"layer":[
{"data":{"values":[{}]},"mark":{"type":"rule","strokeDash":[1,1.5],"color":"#444","strokeWidth":0.8},"encoding":{"x":{"datum":0},"x2":{"datum":20},"y":{"datum":100}}},
{"data":{"values":[{}]},"mark":{"type":"rule","strokeDash":[1,1.5],"color":"#444","strokeWidth":0.8},"encoding":{"x":{"datum":0},"y":{"datum":60},"y2":{"datum":140}}},
{"data":{"name":"vc"},"transform":[{"filter":"datum.panel === 'C'"}],"layer":[
{"mark":{"type":"line","color":"black","strokeWidth":0.8},"encoding":{"detail":{"field":"vessel"}}},
{"mark":{"type":"errorbar","color":"black","thickness":0.8,"ticks":{"size":3,"thickness":0.8}},"encoding":{"yError":{"field":"sem"}}},
{"transform":[{"filter":"datum.vessel === 'Renal'"}],"mark":{"type":"point","shape":"triangle-down","filled":true,"fill":"white","stroke":"black","strokeWidth":0.8,"size":16,"opacity":1}},
{"transform":[{"filter":"datum.vessel === 'Mesenteric'"}],"mark":{"type":"point","shape":"circle","filled":true,"fill":"white","stroke":"black","strokeWidth":0.8,"size":16,"opacity":1}},
{"transform":[{"filter":"datum.vessel === 'Iliac'"}],"mark":{"type":"point","shape":"circle","filled":true,"fill":"black","stroke":"black","strokeWidth":0.8,"size":16,"opacity":1}}]}]}
]}
]},
{"spacing":11,"vconcat":[
{"spacing":25.5,"bounds":"flush","hconcat":[
{"width":110,"height":70,"title":{"text":["VX-(ADX+VX)","(EPINEPHRINE ONLY)"],"dx":3},
"encoding":{"x":{"field":"time","type":"quantitative","scale":{"domain":[-3,20],"nice":false,"zero":false},"axis":{"values":[0,5,10,15,20],"labels":false,"title":null}},"y":{"field":"mean","type":"quantitative","scale":{"domain":[80,140],"nice":false,"zero":false},"axis":{"values":[80,100,120,140],"title":"MAP (%)"}}},
"layer":[
{"data":{"values":[{}]},"mark":{"type":"rule","strokeDash":[1,1.5],"color":"#444","strokeWidth":0.8},"encoding":{"x":{"datum":0},"x2":{"datum":20},"y":{"datum":100}}},
{"data":{"values":[{}]},"mark":{"type":"rule","strokeDash":[1,1.5],"color":"#444","strokeWidth":0.8},"encoding":{"x":{"datum":0},"y":{"datum":80},"y2":{"datum":140}}},
{"data":{"name":"map"},"transform":[{"filter":"datum.panel === 'D'"}],"layer":[
{"mark":{"type":"line","color":"black","strokeWidth":0.8}},
{"mark":{"type":"errorbar","color":"black","thickness":0.8,"ticks":{"size":3,"thickness":0.8}},"encoding":{"yError":{"field":"sem"}}},
{"mark":{"type":"point","shape":"circle","filled":true,"color":"black","size":22,"opacity":1}}]}]},
{"width":110,"height":70,"title":{"text":["SAD","(non-baro EPINEPHRINE ONLY)"],"dx":5},
"encoding":{"x":{"field":"time","type":"quantitative","scale":{"domain":[-3,20],"nice":false,"zero":false},"axis":{"values":[0,5,10,15,20],"labels":false,"title":null}},"y":{"field":"mean","type":"quantitative","scale":{"domain":[80,140],"nice":false,"zero":false},"axis":{"values":[80,100,120,140],"labels":false,"title":null}}},
"layer":[
{"data":{"values":[{}]},"mark":{"type":"rule","strokeDash":[1,1.5],"color":"#444","strokeWidth":0.8},"encoding":{"x":{"datum":0},"x2":{"datum":20},"y":{"datum":100}}},
{"data":{"values":[{}]},"mark":{"type":"rule","strokeDash":[1,1.5],"color":"#444","strokeWidth":0.8},"encoding":{"x":{"datum":0},"y":{"datum":80},"y2":{"datum":140}}},
{"data":{"name":"map"},"transform":[{"filter":"datum.panel === 'E'"}],"layer":[
{"mark":{"type":"line","color":"black","strokeWidth":0.8}},
{"mark":{"type":"errorbar","color":"black","thickness":0.8,"ticks":{"size":3,"thickness":0.8}},"encoding":{"yError":{"field":"sem"}}},
{"mark":{"type":"point","shape":"circle","filled":true,"color":"black","size":22,"opacity":1}}]}]},
{"width":110,"height":70,"title":{"text":["SAD+ADX","(NO FACTOR)"],"dx":11},
"encoding":{"x":{"field":"time","type":"quantitative","scale":{"domain":[-3,20],"nice":false,"zero":false},"axis":{"values":[0,5,10,15,20],"labels":false,"title":null}},"y":{"field":"mean","type":"quantitative","scale":{"domain":[80,140],"nice":false,"zero":false},"axis":{"values":[80,100,120,140],"labels":false,"title":null}}},
"layer":[
{"data":{"values":[{}]},"mark":{"type":"rule","strokeDash":[1,1.5],"color":"#444","strokeWidth":0.8},"encoding":{"x":{"datum":0},"x2":{"datum":20},"y":{"datum":100}}},
{"data":{"values":[{}]},"mark":{"type":"rule","strokeDash":[1,1.5],"color":"#444","strokeWidth":0.8},"encoding":{"x":{"datum":0},"y":{"datum":80},"y2":{"datum":140}}},
{"data":{"name":"map"},"transform":[{"filter":"datum.panel === 'F'"}],"layer":[
{"mark":{"type":"line","color":"black","strokeWidth":0.8}},
{"mark":{"type":"errorbar","color":"black","thickness":0.8,"ticks":{"size":3,"thickness":0.8}},"encoding":{"yError":{"field":"sem"}}},
{"mark":{"type":"point","shape":"circle","filled":true,"color":"black","size":22,"opacity":1}}]}]}
]},
{"spacing":25.5,"bounds":"flush","hconcat":[
{"width":110,"height":70,
"encoding":{"x":{"field":"time","type":"quantitative","scale":{"domain":[-3,20],"nice":false,"zero":false},"axis":{"values":[0,5,10,15,20],"title":null}},"y":{"field":"mean","type":"quantitative","scale":{"domain":[60,140],"nice":false,"zero":false},"axis":{"values":[60,80,100,120,140],"title":["Vascular","Conductance (%)"]}}},
"layer":[
{"data":{"values":[{}]},"mark":{"type":"rule","strokeDash":[1,1.5],"color":"#444","strokeWidth":0.8},"encoding":{"x":{"datum":0},"x2":{"datum":20},"y":{"datum":100}}},
{"data":{"values":[{}]},"mark":{"type":"rule","strokeDash":[1,1.5],"color":"#444","strokeWidth":0.8},"encoding":{"x":{"datum":0},"y":{"datum":60},"y2":{"datum":140}}},
{"data":{"name":"vc"},"transform":[{"filter":"datum.panel === 'D'"}],"layer":[
{"mark":{"type":"line","color":"black","strokeWidth":0.8},"encoding":{"detail":{"field":"vessel"}}},
{"mark":{"type":"errorbar","color":"black","thickness":0.8,"ticks":{"size":3,"thickness":0.8}},"encoding":{"yError":{"field":"sem"}}},
{"transform":[{"filter":"datum.vessel === 'Renal'"}],"mark":{"type":"point","shape":"triangle-down","filled":true,"fill":"white","stroke":"black","strokeWidth":0.8,"size":16,"opacity":1}},
{"transform":[{"filter":"datum.vessel === 'Mesenteric'"}],"mark":{"type":"point","shape":"circle","filled":true,"fill":"white","stroke":"black","strokeWidth":0.8,"size":16,"opacity":1}},
{"transform":[{"filter":"datum.vessel === 'Iliac'"}],"mark":{"type":"point","shape":"circle","filled":true,"fill":"black","stroke":"black","strokeWidth":0.8,"size":16,"opacity":1}}]}]},
{"width":110,"height":70,
"encoding":{"x":{"field":"time","type":"quantitative","scale":{"domain":[-3,20],"nice":false,"zero":false},"axis":{"values":[0,5,10,15,20],"title":"TIME (min)","titleFontSize":11.5,"titleX":46,"titlePadding":16}},"y":{"field":"mean","type":"quantitative","scale":{"domain":[60,140],"nice":false,"zero":false},"axis":{"values":[60,80,100,120,140],"labels":false,"title":null}}},
"layer":[
{"data":{"values":[{}]},"mark":{"type":"rule","strokeDash":[1,1.5],"color":"#444","strokeWidth":0.8},"encoding":{"x":{"datum":0},"x2":{"datum":20},"y":{"datum":100}}},
{"data":{"values":[{}]},"mark":{"type":"rule","strokeDash":[1,1.5],"color":"#444","strokeWidth":0.8},"encoding":{"x":{"datum":0},"y":{"datum":60},"y2":{"datum":140}}},
{"data":{"name":"vc"},"transform":[{"filter":"datum.panel === 'E'"}],"layer":[
{"mark":{"type":"line","color":"black","strokeWidth":0.8},"encoding":{"detail":{"field":"vessel"}}},
{"mark":{"type":"errorbar","color":"black","thickness":0.8,"ticks":{"size":3,"thickness":0.8}},"encoding":{"yError":{"field":"sem"}}},
{"transform":[{"filter":"datum.vessel === 'Renal'"}],"mark":{"type":"point","shape":"triangle-down","filled":true,"fill":"white","stroke":"black","strokeWidth":0.8,"size":16,"opacity":1}},
{"transform":[{"filter":"datum.vessel === 'Mesenteric'"}],"mark":{"type":"point","shape":"circle","filled":true,"fill":"white","stroke":"black","strokeWidth":0.8,"size":16,"opacity":1}},
{"transform":[{"filter":"datum.vessel === 'Iliac'"}],"mark":{"type":"point","shape":"circle","filled":true,"fill":"black","stroke":"black","strokeWidth":0.8,"size":16,"opacity":1}}]}]},
{"width":110,"height":70,
"encoding":{"x":{"field":"time","type":"quantitative","scale":{"domain":[-3,20],"nice":false,"zero":false},"axis":{"values":[0,5,10,15,20],"title":null}},"y":{"field":"mean","type":"quantitative","scale":{"domain":[60,140],"nice":false,"zero":false},"axis":{"values":[60,80,100,120,140],"labels":false,"title":null}}},
"layer":[
{"data":{"values":[{}]},"mark":{"type":"rule","strokeDash":[1,1.5],"color":"#444","strokeWidth":0.8},"encoding":{"x":{"datum":0},"x2":{"datum":20},"y":{"datum":100}}},
{"data":{"values":[{}]},"mark":{"type":"rule","strokeDash":[1,1.5],"color":"#444","strokeWidth":0.8},"encoding":{"x":{"datum":0},"y":{"datum":60},"y2":{"datum":140}}},
{"data":{"name":"vc"},"transform":[{"filter":"datum.panel === 'F'"}],"layer":[
{"mark":{"type":"line","color":"black","strokeWidth":0.8},"encoding":{"detail":{"field":"vessel"}}},
{"mark":{"type":"errorbar","color":"black","thickness":0.8,"ticks":{"size":3,"thickness":0.8}},"encoding":{"yError":{"field":"sem"}}},
{"transform":[{"filter":"datum.vessel === 'Renal'"}],"mark":{"type":"point","shape":"triangle-down","filled":true,"fill":"white","stroke":"black","strokeWidth":0.8,"size":16,"opacity":1}},
{"transform":[{"filter":"datum.vessel === 'Mesenteric'"}],"mark":{"type":"point","shape":"circle","filled":true,"fill":"white","stroke":"black","strokeWidth":0.8,"size":16,"opacity":1}},
{"transform":[{"filter":"datum.vessel === 'Iliac'"}],"mark":{"type":"point","shape":"circle","filled":true,"fill":"black","stroke":"black","strokeWidth":0.8,"size":16,"opacity":1}},
{"mark":{"type":"point","filled":true,"strokeWidth":1,"size":16,"opacity":0},"encoding":{"shape":{"field":"vessel","type":"nominal","scale":{"domain":["Iliac","Mesenteric","Renal"],"range":["M-3,0H-1M1,0H3M1,0A1,1,0,1,1,-1,0A1,1,0,1,1,1,0Z","M-3,0H-1M1,0H3M1,0A1,1,0,1,1,-1,0A1,1,0,1,1,1,0Z","M-3,0H-0.55M0.55,0H3M-1.1,-0.8H1.1L0,1.1Z"]},"legend":{"title":null,"orient":"none","legendX":320,"legendY":388,"symbolOpacity":1,"symbolSize":16,"symbolStrokeWidth":1,"rowPadding":0,"labelOffset":10}},"fill":{"field":"vessel","type":"nominal","scale":{"domain":["Iliac","Mesenteric","Renal"],"range":["black","white","white"]},"legend":{"title":null,"orient":"none","legendX":320,"legendY":388,"symbolOpacity":1,"symbolSize":16,"symbolStrokeWidth":1,"rowPadding":0,"labelOffset":10}},"stroke":{"field":"vessel","type":"nominal","scale":{"domain":["Iliac","Mesenteric","Renal"],"range":["black","black","black"]},"legend":{"title":null,"orient":"none","legendX":320,"legendY":388,"symbolOpacity":1,"symbolSize":16,"symbolStrokeWidth":1,"rowPadding":0,"labelOffset":10}}}}]}]}
]}
]}
],
"config":{
"font":"Liberation Sans",
"view":{"stroke":null},
"axis":{"grid":false,"domainColor":"black","domainWidth":1.5,"tickColor":"black","tickSize":3,"tickWidth":1,"labelColor":"black","labelFont":"Liberation Sans","labelFontSize":7.5,"labelFontWeight":"bold","labelPadding":2,"titleColor":"black","titleFont":"Liberation Sans","titleFontWeight":"bold","titleFontSize":8.5},
"axisY":{"titlePadding":8,"titleLineHeight":11},
"title":{"font":"Liberation Sans","fontSize":7.5,"fontWeight":"bold","color":"black","offset":-3,"lineHeight":10,"anchor":"middle"},
"legend":{"labelFont":"Liberation Sans","labelFontSize":7.5,"labelFontWeight":"bold","labelColor":"black","padding":0}
}
}
